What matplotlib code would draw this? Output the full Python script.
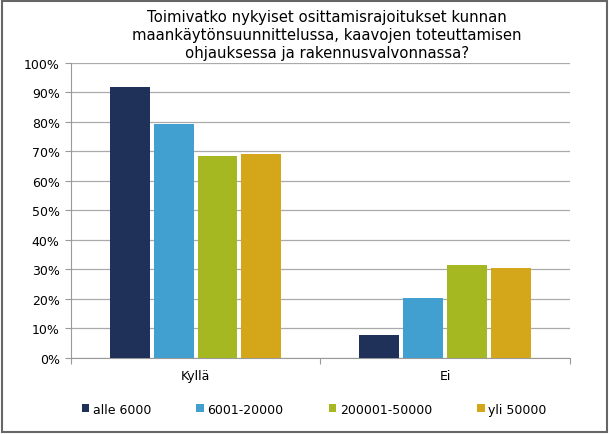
import numpy as np
import matplotlib.pyplot as plt
from matplotlib.patches import Rectangle

categories = ["Kyllä", "Ei"]
series = ["alle 6000", "6001-20000", "200001-50000", "yli 50000"]
values = [
    [92.0, 7.7],
    [79.3, 20.3],
    [68.3, 31.5],
    [69.0, 30.6],
]
colors = ["#1F3059", "#41A0CF", "#A5B822", "#D4A619"]

fig = plt.figure(figsize=(6.1, 4.35), dpi=100)
ax = fig.add_axes([0.116, 0.175, 0.818, 0.678])

x = np.arange(len(categories))
width = 0.16
step = 0.176
for i, (name, vals) in enumerate(zip(series, values)):
    offset = (i - 1.5) * step
    ax.bar(x + offset, vals, width, color=colors[i], label=name, zorder=3)

ax.set_xlim(-0.5, 1.5)
ax.set_ylim(0, 100)
ax.set_yticks(np.arange(0, 101, 10))
ax.set_yticklabels([f"{v}%" for v in range(0, 101, 10)], fontsize=9)
ax.yaxis.grid(True, color="#AAAAAA", linewidth=0.9, zorder=0)

# category labels between boundary ticks
ax.set_xticks([-0.5, 0.5, 1.5])
ax.set_xticklabels([])
ax.set_xticks(x, minor=True)
ax.set_xticklabels(categories, minor=True, fontsize=9)
ax.tick_params(axis="x", which="minor", length=0, pad=8)
ax.tick_params(axis="x", which="major", length=4, color="#999999")
ax.tick_params(axis="y", length=4, color="#999999", pad=4)

for s in ["top", "right"]:
    ax.spines[s].set_visible(False)
ax.spines["left"].set_color("#999999")
ax.spines["bottom"].set_color("#999999")

fig.text(0.536, 0.978,
         "Toimivatko nykyiset osittamisrajoitukset kunnan\n"
         "maankäytönsuunnittelussa, kaavojen toteuttamisen\n"
         "ohjauksessa ja rakennusvalvonnassa?",
         fontsize=10.7, ha="center", va="top", linespacing=1.28)

fig.legend(loc="center", bbox_to_anchor=(0.515, 0.057), ncol=4, frameon=False,
           fontsize=9, handlelength=0.6, handleheight=0.6, handletextpad=0.3,
           columnspacing=3.6)

fig.patches.append(Rectangle((0.003, 0.005), 0.992, 0.99, transform=fig.transFigure,
                             fill=False, edgecolor="#666666", linewidth=1.5))

fig.savefig("out.png", dpi=100)
